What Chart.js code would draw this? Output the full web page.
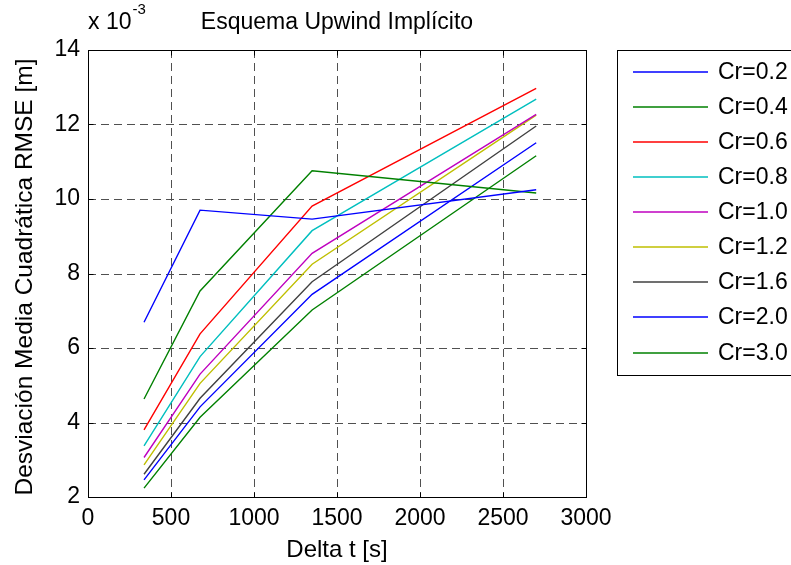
<!DOCTYPE html>
<html><head><meta charset="utf-8">
<script src="https://cdn.jsdelivr.net/npm/chart.js@4/dist/chart.umd.min.js"></script>
<style>html,body{margin:0;padding:0;background:#fff;overflow:hidden;}</style>
</head><body>
<canvas id="c" width="791" height="565"></canvas>
<script>
// ---- data (RMSE values in units of 1e-3 m) ----
const deltaT = [337.5, 675, 1350, 2700];
const seriesLabels = ['Cr=0.2','Cr=0.4','Cr=0.6','Cr=0.8','Cr=1.0','Cr=1.2','Cr=1.6','Cr=2.0','Cr=3.0'];
const cr02 = [6.69, 9.70, 9.46, 10.25];
const cr04 = [4.63, 7.53, 10.76, 10.16];
const cr06 = [3.80, 6.38, 9.81, 12.97];
const cr08 = [3.37, 5.77, 9.15, 12.68];
const cr10 = [3.06, 5.30, 8.54, 12.27];
const cr12 = [2.86, 5.05, 8.25, 12.25];
const cr16 = [2.61, 4.65, 7.78, 11.96];
const cr20 = [2.46, 4.42, 7.44, 11.51];
const cr30 = [2.24, 4.14, 7.02, 11.16];
const xTicks = [0, 500, 1000, 1500, 2000, 2500, 3000];
const yTicks = [2, 4, 6, 8, 10, 12, 14];
const seriesColors = ['#0000ff','#008000','#ff0000','#00bfbf','#bf00bf','#bfbf00','#404040','#0000ff','#008000'];
const titleText = 'Esquema Upwind Implícito';
const xTitle = 'Delta t [s]';
const yTitle = 'Desviación Media Cuadrática RMSE [m]';

const allSeries = [cr02, cr04, cr06, cr08, cr10, cr12, cr16, cr20, cr30];
const datasets = allSeries.map((vals, i) => ({
  label: seriesLabels[i],
  data: vals.map((v, j) => ({x: deltaT[j], y: v})),
  borderColor: seriesColors[i],
  backgroundColor: seriesColors[i],
  borderWidth: 1.4,
  pointRadius: 0,
  fill: false,
  tension: 0
}));

const FONT = '"Liberation Sans", Arial, sans-serif';

const decor = {
  id: 'decor',
  beforeDatasetsDraw(chart) {
    const ctx = chart.ctx, a = chart.chartArea;
    const xs = chart.scales.x, ys = chart.scales.y;
    ctx.save();
    ctx.strokeStyle = '#505050';
    ctx.lineWidth = 1;
    ctx.setLineDash([8, 5]);
    xTicks.forEach(t => {
      if (t === xTicks[0] || t === xTicks[xTicks.length-1]) return;
      const px = Math.round(xs.getPixelForValue(t)) + 0.5;
      ctx.beginPath(); ctx.moveTo(px, a.top); ctx.lineTo(px, a.bottom); ctx.stroke();
    });
    yTicks.forEach(t => {
      if (t === yTicks[0] || t === yTicks[yTicks.length-1]) return;
      const py = Math.round(ys.getPixelForValue(t)) + 0.5;
      ctx.beginPath(); ctx.moveTo(a.left, py); ctx.lineTo(a.right, py); ctx.stroke();
    });
    ctx.restore();
  },
  afterDraw(chart) {
    const ctx = chart.ctx, a = chart.chartArea;
    const xs = chart.scales.x, ys = chart.scales.y;
    ctx.save();
    // box
    ctx.strokeStyle = '#000';
    ctx.lineWidth = 1;
    ctx.setLineDash([]);
    const L = Math.round(a.left) + 0.5, R = Math.round(a.right) + 0.5;
    const T = Math.round(a.top) + 0.5, B = Math.round(a.bottom) + 0.5;
    ctx.strokeRect(L, T, R - L, B - T);
    // inside tick marks
    const tl = 5;
    xTicks.forEach(t => {
      const px = Math.round(xs.getPixelForValue(t)) + 0.5;
      ctx.beginPath();
      ctx.moveTo(px, B); ctx.lineTo(px, B - tl);
      ctx.moveTo(px, T); ctx.lineTo(px, T + tl);
      ctx.stroke();
    });
    yTicks.forEach(t => {
      const py = Math.round(ys.getPixelForValue(t)) + 0.5;
      ctx.beginPath();
      ctx.moveTo(L, py); ctx.lineTo(L + tl, py);
      ctx.moveTo(R, py); ctx.lineTo(R - tl, py);
      ctx.stroke();
    });
    // title
    ctx.fillStyle = '#000';
    ctx.font = '23px ' + FONT;
    ctx.textAlign = 'center';
    ctx.textBaseline = 'alphabetic';
    ctx.fillText(titleText, (a.left + a.right) / 2, 29);
    // exponent label
    ctx.textAlign = 'left';
    ctx.font = '23px ' + FONT;
    ctx.fillText('x 10', 88, 29);
    const w = ctx.measureText('x 10').width;
    ctx.font = '15px ' + FONT;
    ctx.fillText('-3', 88 + w + 1, 14);
    // x title
    ctx.font = '24px ' + FONT;
    ctx.textAlign = 'center';
    ctx.textBaseline = 'middle';
    ctx.fillText(xTitle, (a.left + a.right) / 2, 550);
    // y title
    ctx.save();
    ctx.translate(25, 277);
    ctx.rotate(-Math.PI / 2);
    ctx.font = '24.5px ' + FONT;
    ctx.fillText(yTitle, 0, 0);
    ctx.restore();
    // legend
    const lx = 617.5, ly = 50.5, lw = 190, lh = 325;
    ctx.fillStyle = '#fff';
    ctx.fillRect(lx, ly, lw, lh);
    ctx.strokeStyle = '#000';
    ctx.lineWidth = 1;
    ctx.strokeRect(lx, ly, lw, lh);
    ctx.font = '23px ' + FONT;
    ctx.textAlign = 'left';
    ctx.textBaseline = 'middle';
    chart.data.datasets.forEach((ds, i) => {
      const y = Math.round(71.7 + i * 35.1);
      ctx.strokeStyle = ds.borderColor;
      ctx.lineWidth = 1.4;
      ctx.beginPath(); ctx.moveTo(633, y); ctx.lineTo(708, y); ctx.stroke();
      ctx.fillStyle = '#000';
      ctx.fillText(ds.label, 718, y + 1);
    });
    ctx.restore();
  }
};

new Chart(document.getElementById('c'), {
  type: 'line',
  data: { datasets },
  options: {
    responsive: false,
    devicePixelRatio: 1,
    animation: false,
    layout: { padding: { top: 50, right: 205, left: 0, bottom: 0 } },
    plugins: { legend: { display: false }, title: { display: false }, tooltip: { enabled: false } },
    scales: {
      x: {
        type: 'linear', min: 0, max: 3000,
        afterFit(s) { s.height = 68; },
        afterBuildTicks(s) { s.ticks = xTicks.map(v => ({ value: v })); },
        grid: { display: false, drawTicks: false },
        border: { display: false },
        ticks: { color: '#000', font: { family: FONT, size: 23 }, padding: 8, maxRotation: 0, autoSkip: false,
                 callback: v => String(v) }
      },
      y: {
        type: 'linear', min: 2, max: 14,
        afterFit(s) { s.width = 88; },
        afterBuildTicks(s) { s.ticks = yTicks.map(v => ({ value: v })); },
        grid: { display: false, drawTicks: false },
        border: { display: false },
        ticks: { color: '#000', font: { family: FONT, size: 23 }, padding: 8, autoSkip: false,
                 callback: v => String(v) }
      }
    }
  },
  plugins: [decor]
});
</script>
</body></html>
